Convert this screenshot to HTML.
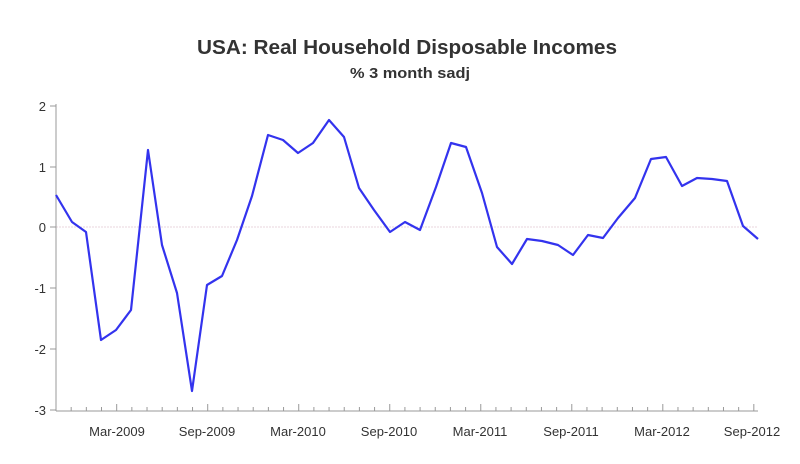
<!DOCTYPE html>
<html><head><meta charset="utf-8"><style>
html,body{margin:0;padding:0;background:#fff;}
svg{display:block;}
text{font-family:"Liberation Sans",sans-serif;fill:#333;}
</style></head><body>
<svg width="800" height="464" viewBox="0 0 800 464">
<text x="407" y="54" text-anchor="middle" font-size="20" font-weight="bold" textLength="420" lengthAdjust="spacingAndGlyphs" fill="#222">USA: Real Household Disposable Incomes</text>
<text x="410" y="78" text-anchor="middle" font-size="15" font-weight="bold" textLength="120" lengthAdjust="spacingAndGlyphs" fill="#222">% 3 month sadj</text>
<line x1="56" y1="227" x2="758" y2="227" stroke="#e8d4dc" stroke-width="1" stroke-dasharray="2,1"/>
<line x1="56" y1="104" x2="56" y2="411" stroke="#999" stroke-width="1"/>
<line x1="56" y1="411" x2="758" y2="411" stroke="#999" stroke-width="1"/>
<g stroke="#999">
<line x1="50" y1="106" x2="56" y2="106"/><line x1="50" y1="167" x2="56" y2="167"/><line x1="50" y1="227" x2="56" y2="227"/><line x1="50" y1="288" x2="56" y2="288"/><line x1="50" y1="349" x2="56" y2="349"/><line x1="50" y1="410" x2="56" y2="410"/>
</g>
<g font-size="13" text-anchor="end" fill="#333">
<text x="46" y="111">2</text><text x="46" y="172">1</text><text x="46" y="232">0</text><text x="46" y="293">-1</text><text x="46" y="354">-2</text><text x="46" y="415">-3</text>
</g>
<g stroke="#999" id="ticks"></g>
<g font-size="13" text-anchor="middle" fill="#333">
<text x="117" y="436">Mar-2009</text><text x="207" y="436">Sep-2009</text><text x="298" y="436">Mar-2010</text><text x="389" y="436">Sep-2010</text><text x="480" y="436">Mar-2011</text><text x="571" y="436">Sep-2011</text><text x="662" y="436">Mar-2012</text><text x="752" y="436">Sep-2012</text>
</g>
<polyline fill="none" stroke="#3333ee" stroke-width="2.2" stroke-linejoin="round" points="56,195 72,222 86,232 101,340 116,330 131,310 148,150 162,245 177,293 192,391 207,285 222,276 237,240 252,196 268,135 283,140 298,153 313,143 329,120 344,137 359,188 374,210 390,232 405,222 420,230 436,187 451,143 466,147 482,193 497,247 512,264 527,239 542,241 558,245 573,255 588,235 603,238 618,218 635,198 651,159 666,157 682,186 697,178 712,179 727,181 743,226 758,239"/>
<script>
var g=document.getElementById('ticks');
for(var i=0;i<47;i++){var x=56+i*15.17;var l=document.createElementNS('http://www.w3.org/2000/svg','line');l.setAttribute('x1',x);l.setAttribute('x2',x);l.setAttribute('y1',411);l.setAttribute('y2',(i%6==4)?404:407);g.appendChild(l);}
</script>
</svg>
</body></html>
